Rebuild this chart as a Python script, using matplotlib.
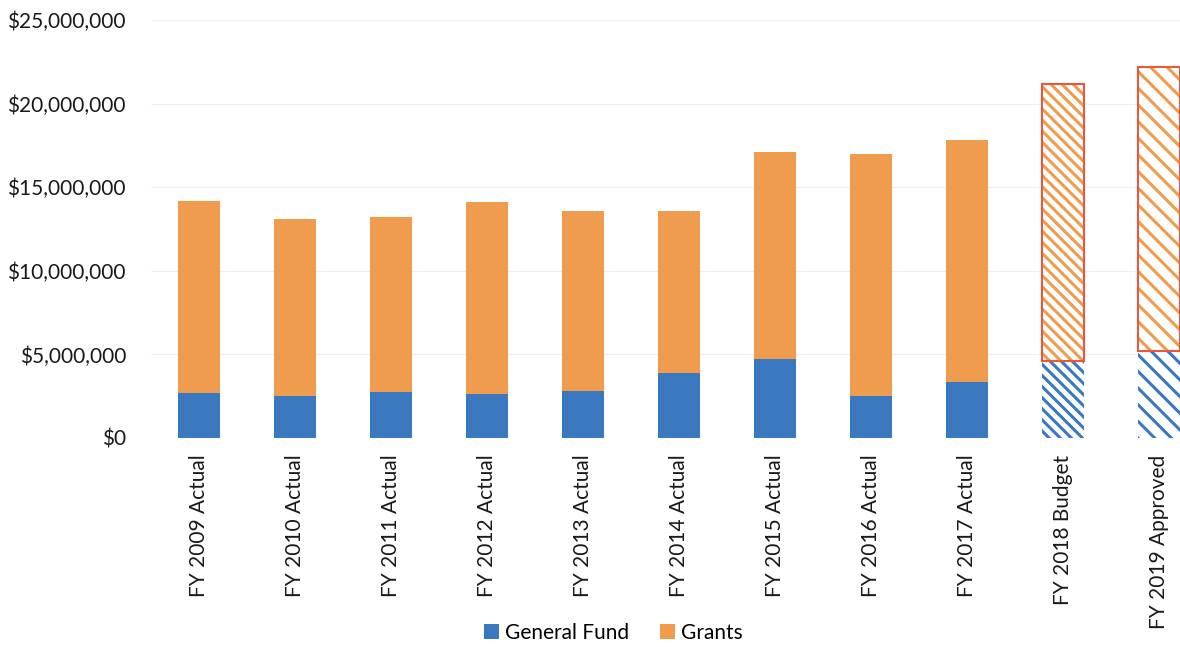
import matplotlib
matplotlib.use("Agg")
import matplotlib.pyplot as plt
from matplotlib.patches import Patch
from matplotlib.ticker import FuncFormatter

# Values (dollars)
years = ["FY 2009 Actual", "FY 2010 Actual", "FY 2011 Actual", "FY 2012 Actual",
         "FY 2013 Actual", "FY 2014 Actual", "FY 2015 Actual", "FY 2016 Actual",
         "FY 2017 Actual", "FY 2018 Budget", "FY 2019 Approved"]
general_fund = [2.7e6, 2.5e6, 2.75e6, 2.65e6, 2.8e6, 3.9e6, 4.7e6, 2.5e6, 3.35e6, 4.6e6, 5.2e6]
totals = [14.2e6, 13.1e6, 13.2e6, 14.1e6, 13.6e6, 13.6e6, 17.1e6, 17.0e6, 17.85e6, 21.2e6, 22.2e6]
grants = [t - g for t, g in zip(totals, general_fund)]
projected = [False] * 9 + [True, True]
hatches = [None] * 9 + ["\\\\\\", "\\\\"]

blue = "#3a78bf"
orange = "#ef9c4f"
red = "#e8583a"

plt.rcParams["font.family"] = ["Lato", "DejaVu Sans"]
plt.rcParams["hatch.linewidth"] = 2.2

fig = plt.figure(figsize=(11.8, 6.47), dpi=100)
ax = fig.add_axes([151 / 1180, (647 - 438) / 647, 1056 / 1180, 418 / 647])

x = list(range(len(years)))
width = 0.43
for i in x:
    if projected[i]:
        ax.bar(i, general_fund[i], width, color="white", edgecolor=blue,
               hatch=hatches[i], linewidth=0, zorder=3)
        ax.bar(i, grants[i], width, bottom=general_fund[i], color="white",
               edgecolor=orange, hatch=hatches[i], linewidth=0, zorder=3)
        ax.bar(i, grants[i], width, bottom=general_fund[i], fill=False,
               edgecolor=red, linewidth=1.5, zorder=4)
    else:
        ax.bar(i, general_fund[i], width, color=blue, linewidth=0, zorder=3)
        ax.bar(i, grants[i], width, bottom=general_fund[i], color=orange,
               linewidth=0, zorder=3)

ax.set_xlim(-0.5, len(years) - 0.5)
ax.set_ylim(0, 25e6)
ax.set_yticks([0, 5e6, 10e6, 15e6, 20e6, 25e6])
ax.yaxis.set_major_formatter(FuncFormatter(lambda v, p: "${:,.0f}".format(v)))
ax.set_xticks(x)
ax.set_xticklabels(years, rotation=90, fontsize=15, color="#1a1a1a")
ax.tick_params(axis="y", labelsize=15, labelcolor="#1a1a1a", length=0, pad=18)
ax.tick_params(axis="x", length=0, pad=12)
ax.grid(axis="y", color="#f0f0f0", linewidth=0.8, zorder=0)
for s in ax.spines.values():
    s.set_visible(False)

handles = [Patch(facecolor=blue, label="General Fund"),
           Patch(facecolor=orange, label="Grants")]
fig.legend(handles=handles, loc="center", bbox_to_anchor=(0.52, 0.022), ncol=2,
           frameon=False, fontsize=15, handlelength=0.7, handleheight=0.7,
           handletextpad=0.3, columnspacing=1.5)

fig.savefig("out.png", dpi=100)
